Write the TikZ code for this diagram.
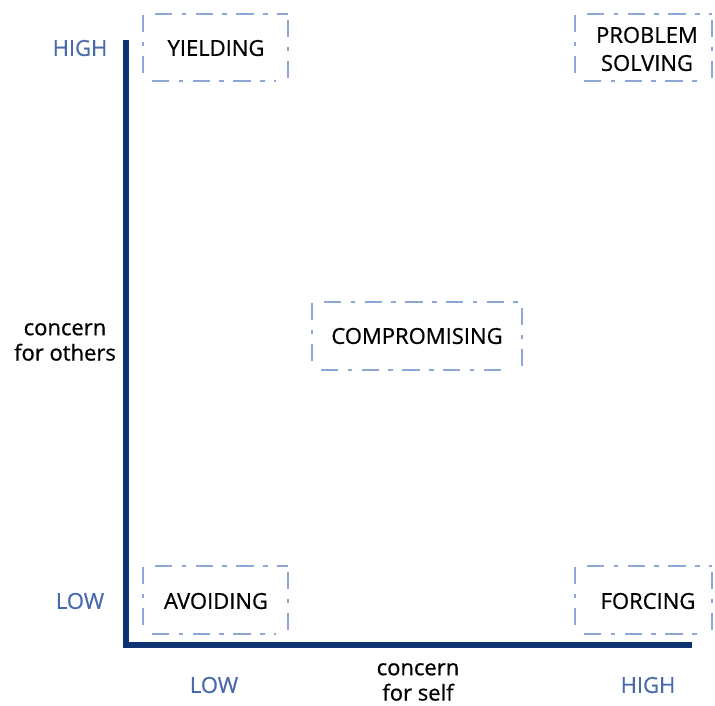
\documentclass[tikz,border=0pt]{standalone}
\usepackage{fontspec}
\setmainfont{Open Sans}[FakeBold=0.7]
\definecolor{axisblue}{HTML}{0F3272}
\definecolor{lblblue}{HTML}{4A6AAE}
\definecolor{boxblue}{HTML}{8EA6D6}
\tikzset{
  dd/.style={draw=boxblue, line width=1.6pt, dash pattern=on 13pt off 7pt on 3.5pt off 7pt},
  lbl/.style={font=\fontsize{16.5}{20}\selectfont, text=black, align=center},
  tick/.style={font=\fontsize{16.5}{20}\selectfont, text=lblblue},
  axis/.style={draw=axisblue, line width=4.5pt}
}
\begin{document}
\begin{tikzpicture}[x=0.75pt,y=-0.75pt]
\useasboundingbox (0,0) rectangle (715,706);
% axes
\coordinate (top) at (126,40);
\coordinate (corner) at (126,645);
\coordinate (right) at (692,645);
\draw[axis, line join=miter] (top) -- (corner) -- (right);
% boxes (four separate dash-dot lines each)
\newcommand{\ddbox}[4]{%
  \draw[dd] (#1,#2+1) -- (#1,#4-3);
  \draw[dd] (#1+12,#2) -- (#3,#2);
  \draw[dd] (#3,#2+6) -- (#3,#4);
  \draw[dd] (#1+9,#4) -- (#3-12,#4);
}
\ddbox{143}{14}{288}{81}
\ddbox{575}{14}{712}{81}
\ddbox{312}{302}{522}{370}
\ddbox{143}{566}{288}{634}
\ddbox{575}{566}{712}{634}
% texts
\node[lbl] (yield) at (216,48) {YIELDING};
\node[lbl] (prob) at (647,49) {PROBLEM\\[1pt]SOLVING};
\node[lbl] (comp) at (417,336) {COMPROMISING};
\node[lbl] (avoid) at (216,601) {AVOIDING};
\node[lbl] (force) at (648,601) {FORCING};
\node[tick] (hy) at (80,48) {HIGH};
\node[tick] (ly) at (80,601) {LOW};
\node[tick] (lx) at (214,685) {LOW};
\node[tick] (hx) at (648,685) {HIGH};
\node[lbl] (co) at (65,342) {concern\\[-1pt]for others};
\node[lbl] (cs) at (418,682) {concern\\[-1pt]for self};
\end{tikzpicture}
\end{document}
